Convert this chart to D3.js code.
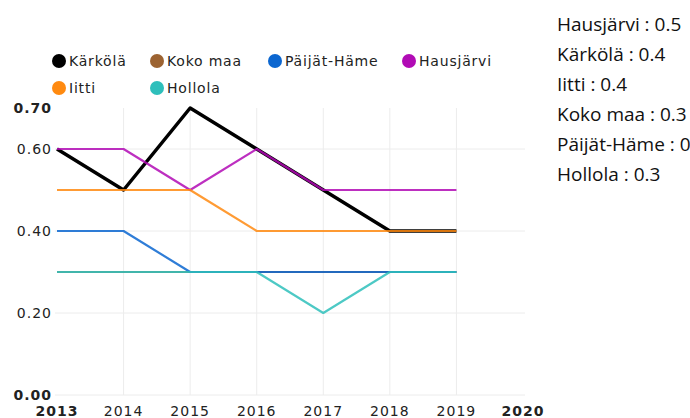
<!DOCTYPE html>
<html><head><meta charset="utf-8">
<script src="https://cdn.jsdelivr.net/npm/d3@7"></script>
<style>
body{margin:0;background:#fff;}
svg{display:block;}
</style></head>
<body>
<svg id="c" width="690" height="418"></svg>
<script>
const years = [2013, 2014, 2015, 2016, 2017, 2018, 2019];
const xTickYears = [2013, 2014, 2015, 2016, 2017, 2018, 2019, 2020];
const yTicks = [0, 0.2, 0.4, 0.6, 0.7];
const seriesNames = ["Kärkölä", "Koko maa", "Päijät-Häme", "Hausjärvi", "Iitti", "Hollola"];
const seriesColors = ["#000000", "#9c6331", "#0b66d0", "#b10bb5", "#ff8a10", "#2ebfbb"];
const karkola   = [0.6, 0.5, 0.7, 0.6, 0.5, 0.4, 0.4];
const kokoMaa   = [0.3, 0.3, 0.3, 0.3, 0.3, 0.3, 0.3];
const paijatHame= [0.4, 0.4, 0.3, 0.3, 0.3, 0.3, 0.3];
const hausjarvi = [0.6, 0.6, 0.5, 0.6, 0.5, 0.5, 0.5];
const iitti     = [0.5, 0.5, 0.5, 0.4, 0.4, 0.4, 0.4];
const hollola   = [0.3, 0.3, 0.3, 0.3, 0.2, 0.3, 0.3];
const seriesValues = [karkola, kokoMaa, paijatHame, hausjarvi, iitti, hollola];
const tooltipNames = ["Hausjärvi", "Kärkölä", "Iitti", "Koko maa", "Päijät-Häme", "Hollola"];
const tooltipValues = [0.5, 0.4, 0.4, 0.3, 0.3, 0.3];

const svg = d3.select("#c");
const x = d3.scaleLinear().domain([2013, 2020]).range([57, 523]);
const y = d3.scaleLinear().domain([0, 0.7]).range([395, 108]);

// grid
const g = svg.append("g");
g.selectAll("line.h").data([0, 0.2, 0.4, 0.6]).join("line")
  .attr("x1", 55).attr("x2", 525)
  .attr("y1", d => y(d)).attr("y2", d => y(d))
  .attr("stroke", "#ececec").attr("stroke-width", 1);
g.selectAll("line.v").data(xTickYears.slice(1, 7)).join("line")
  .attr("x1", d => x(d)).attr("x2", d => x(d))
  .attr("y1", y(0.7)).attr("y2", y(0))
  .attr("stroke", "#ececec").attr("stroke-width", 1);

// y labels
svg.selectAll("text.yl").data(yTicks).join("text")
  .attr("x", 52).attr("y", d => y(d) + 5)
  .attr("text-anchor", "end")
  .style("font-family", "DejaVu Sans").style("font-size", "14px")
  .style("letter-spacing", "1px")
  .style("font-weight", (d, i) => (i === 0 || i === yTicks.length - 1) ? "bold" : "normal")
  .attr("fill", "#222")
  .text(d => d3.format(".2f")(d));

// x labels
svg.selectAll("text.xl").data(xTickYears).join("text")
  .attr("x", d => x(d)).attr("y", 416)
  .attr("text-anchor", "middle")
  .style("font-family", "DejaVu Sans").style("font-size", "14px")
  .style("letter-spacing", "1px")
  .style("font-weight", (d, i) => (i === 0 || i === xTickYears.length - 1) ? "bold" : "normal")
  .attr("fill", "#222")
  .text(d => d);

// lines
const line = d3.line().x((d, i) => x(years[i])).y(d => y(d));
svg.append("g").selectAll("path").data(seriesValues).join("path")
  .attr("d", d => line(d))
  .attr("fill", "none")
  .attr("stroke", (d, i) => seriesColors[i])
  .attr("stroke-width", (d, i) => i === 0 ? 3.5 : 2.2)
  .attr("stroke-opacity", (d, i) => i === 0 ? 1 : 0.85)
  .attr("stroke-linejoin", "round");

// legend
const legendPos = [[59, 61], [157, 61], [275, 61], [409, 61], [59, 88], [157, 88]];
const lg = svg.append("g").selectAll("g").data(seriesNames).join("g")
  .attr("transform", (d, i) => `translate(${legendPos[i][0]},${legendPos[i][1]})`);
lg.append("circle").attr("r", 7).attr("fill", (d, i) => seriesColors[i]);
lg.append("text").attr("x", 10).attr("y", 5)
  .style("font-family", "DejaVu Sans").style("font-size", "14px")
  .style("letter-spacing", "0.8px")
  .attr("fill", "#222").text(d => d);

// tooltip-like list
svg.selectAll("text.tt").data(tooltipNames).join("text")
  .attr("x", 557).attr("y", (d, i) => 31 + i * 30)
  .style("font-family", "Open Sans").style("font-size", "19px")
  .attr("fill", "#111")
  .text((d, i) => d + " : " + tooltipValues[i]);
</script>
</body></html>
